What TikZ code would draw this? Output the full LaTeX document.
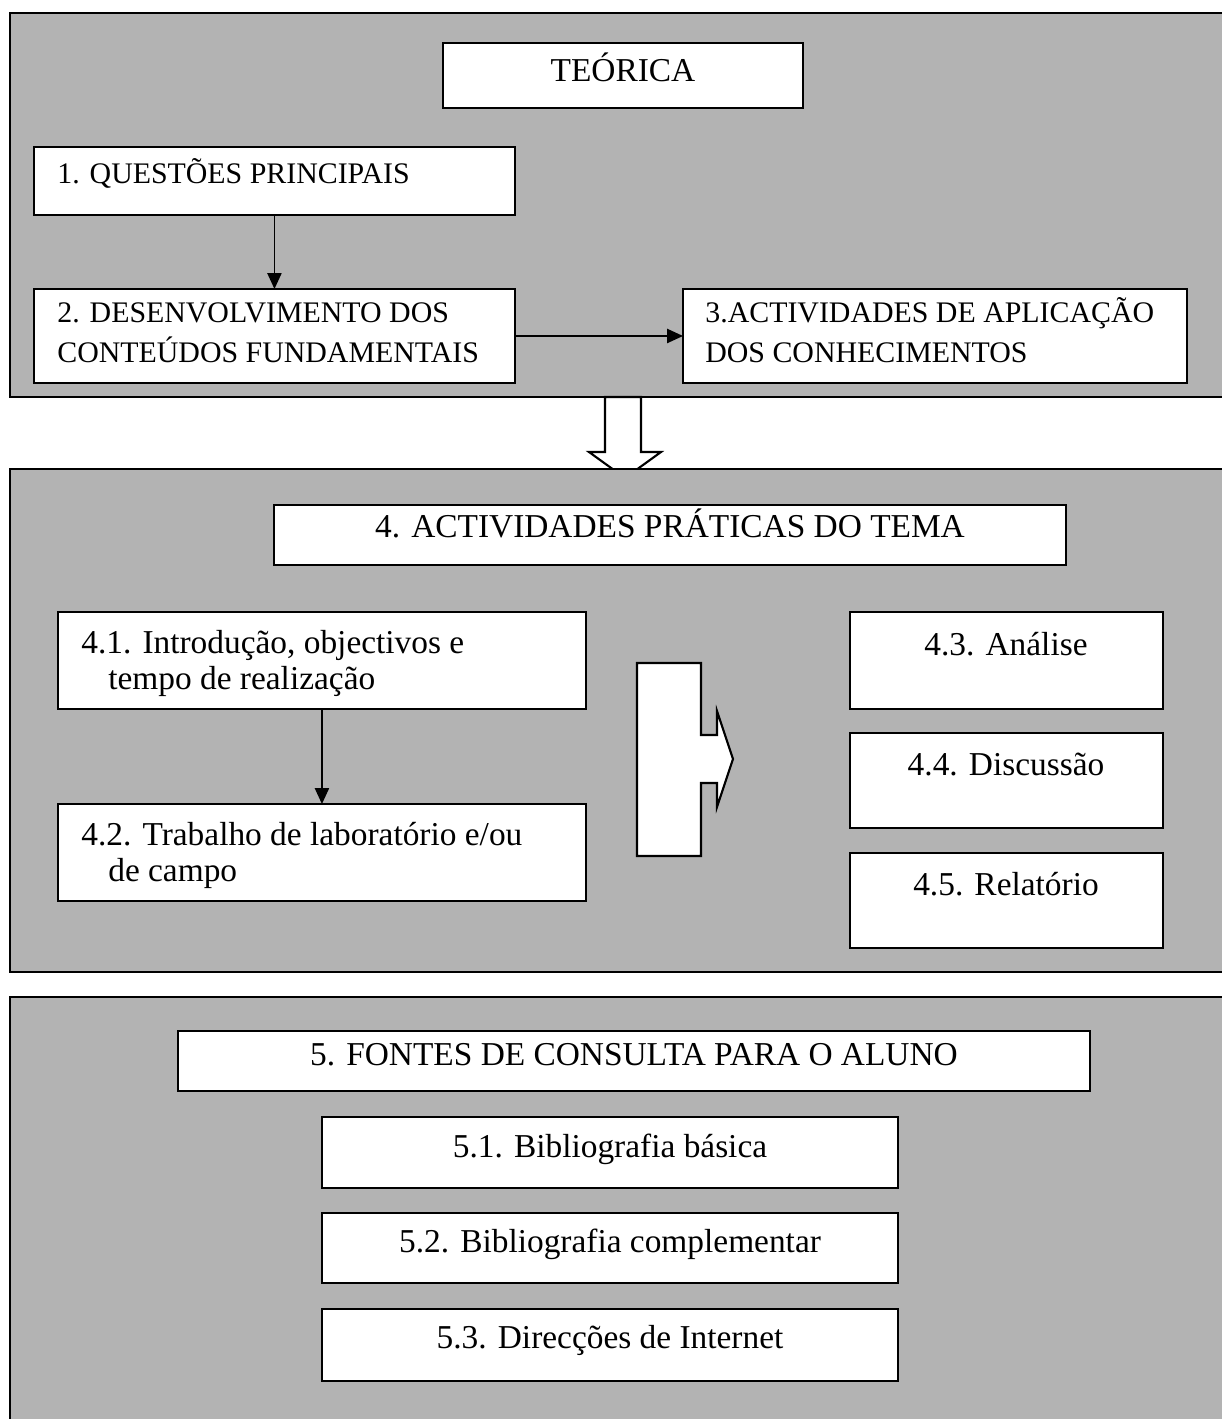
\documentclass[tikz,border=0pt]{standalone}
\usepackage{fontspec}
\setmainfont{Liberation Serif}
\usetikzlibrary{arrows.meta}
\definecolor{panelgray}{HTML}{B3B3B3}
\newcommand{\topsize}{\fontsize{17}{22.8}\selectfont}
\newcommand{\lowsize}{\fontsize{19}{20.5}\selectfont}
\newcommand{\twolines}[2]{\begin{tabular}[t]{@{}l@{}}#1\\ #2\end{tabular}}

\begin{document}
\begin{tikzpicture}[x=0.02cm, y=-0.02cm,
    panel/.style={draw, fill=panelgray, line width=1.2pt},
    box/.style={draw, fill=white, line width=1.2pt, inner sep=0pt, outer sep=0pt, anchor=north west},
    bigarrow/.style={draw, fill=white, line width=1.2pt, line join=miter},
    conn/.style={line width=1pt, -{Triangle[length=9pt, width=8pt]}},
    toptxt/.style={inner sep=0pt, anchor=base west, font=\topsize},
    headtxt/.style={inner sep=0pt, anchor=base, font=\fontsize{19}{23}\selectfont},
    lowtxt/.style={inner sep=0pt, anchor=base, font=\lowsize}]
    \useasboundingbox (0,0) rectangle (1222,1419);
    \clip (0,0) rectangle (1222,1419);

    % teorica
    \draw[panel] (10,13) rectangle (1240,397);
    \node[box, minimum width=7.2cm, minimum height=1.3cm] (teo) at (443,43) {};
    \node[headtxt] (teot) at (623,82) {TEÓRICA};
    \node[box, minimum width=9.62cm, minimum height=1.36cm] (q1) at (34,147) {};
    \node[toptxt] (q1t) at (57,184) {1. QUESTÕES PRINCIPAIS};
    \node[box, minimum width=9.62cm, minimum height=1.88cm] (q2) at (34,289) {};
    \node[toptxt] (q2t) at (57,322) {\twolines{2. DESENVOLVIMENTO DOS}{CONTEÚDOS FUNDAMENTAIS}};
    \node[box, minimum width=10.08cm, minimum height=1.88cm] (q3) at (683,289) {};
    \node[toptxt] (q3t) at (705,322) {\twolines{3.ACTIVIDADES DE APLICAÇÃO}{DOS CONHECIMENTOS}};
    \draw[conn] (q1.south) -- (q2.north);
    \draw[conn] (q2.east) -- (q3.west);

    \draw[bigarrow] (605,397) -- (641,397) -- (641,452) -- (661,452) -- (625,478)
        -- (589,452) -- (605,452) -- cycle;

    % praticas
    \draw[panel] (10,469) rectangle (1240,972);
    \node[box, minimum width=15.84cm, minimum height=1.2cm] (a4) at (274,505) {};
    \node[headtxt] (a4t) at (670,537) {4. ACTIVIDADES PRÁTICAS DO TEMA};
    \node[box, minimum width=10.56cm, minimum height=1.94cm] (a41) at (58,612) {};
    \node[lowtxt, anchor=base west] (a41t) at (81,653)
        {\twolines{4.1. Introdução, objectivos e}{\hspace*{0.54cm}tempo de realização}};
    \node[box, minimum width=10.56cm, minimum height=1.94cm] (a42) at (58,804) {};
    \node[lowtxt, anchor=base west] (a42t) at (81,845)
        {\twolines{4.2. Trabalho de laboratório e/ou}{\hspace*{0.54cm}de campo}};
    \draw[conn] (a41.south) -- (a42.north);

    \draw[bigarrow] (637,663) -- (701,663) -- (701,735) -- (717,735) -- (717,711) -- (733,759)
        -- (717,807) -- (717,783) -- (701,783) -- (701,856) -- (637,856) -- cycle;

    \node[box, minimum width=6.26cm, minimum height=1.94cm] (a43) at (850,612) {};
    \node[lowtxt] (a43t) at (1006,655) {4.3. Análise};
    \node[box, minimum width=6.26cm, minimum height=1.9cm] (a44) at (850,733) {};
    \node[lowtxt] (a44t) at (1006,775) {4.4. Discussão};
    \node[box, minimum width=6.26cm, minimum height=1.9cm] (a45) at (850,853) {};
    \node[lowtxt] (a45t) at (1006,895) {4.5. Relatório};

    % fontes
    \draw[panel] (10,997) rectangle (1240,1450);
    \node[box, minimum width=18.24cm, minimum height=1.2cm] (f5) at (178,1031) {};
    \node[headtxt] (f5t) at (634,1065) {5. FONTES DE CONSULTA PARA O ALUNO};
    \node[box, minimum width=11.52cm, minimum height=1.42cm] (f51) at (322,1117) {};
    \node[lowtxt] (f51t) at (610,1157) {5.1. Bibliografia básica};
    \node[box, minimum width=11.52cm, minimum height=1.4cm] (f52) at (322,1213) {};
    \node[lowtxt] (f52t) at (610,1252) {5.2. Bibliografia complementar};
    \node[box, minimum width=11.52cm, minimum height=1.44cm] (f53) at (322,1309) {};
    \node[lowtxt] (f53t) at (610,1348) {5.3. Direcções de Internet};
\end{tikzpicture}
\end{document}
